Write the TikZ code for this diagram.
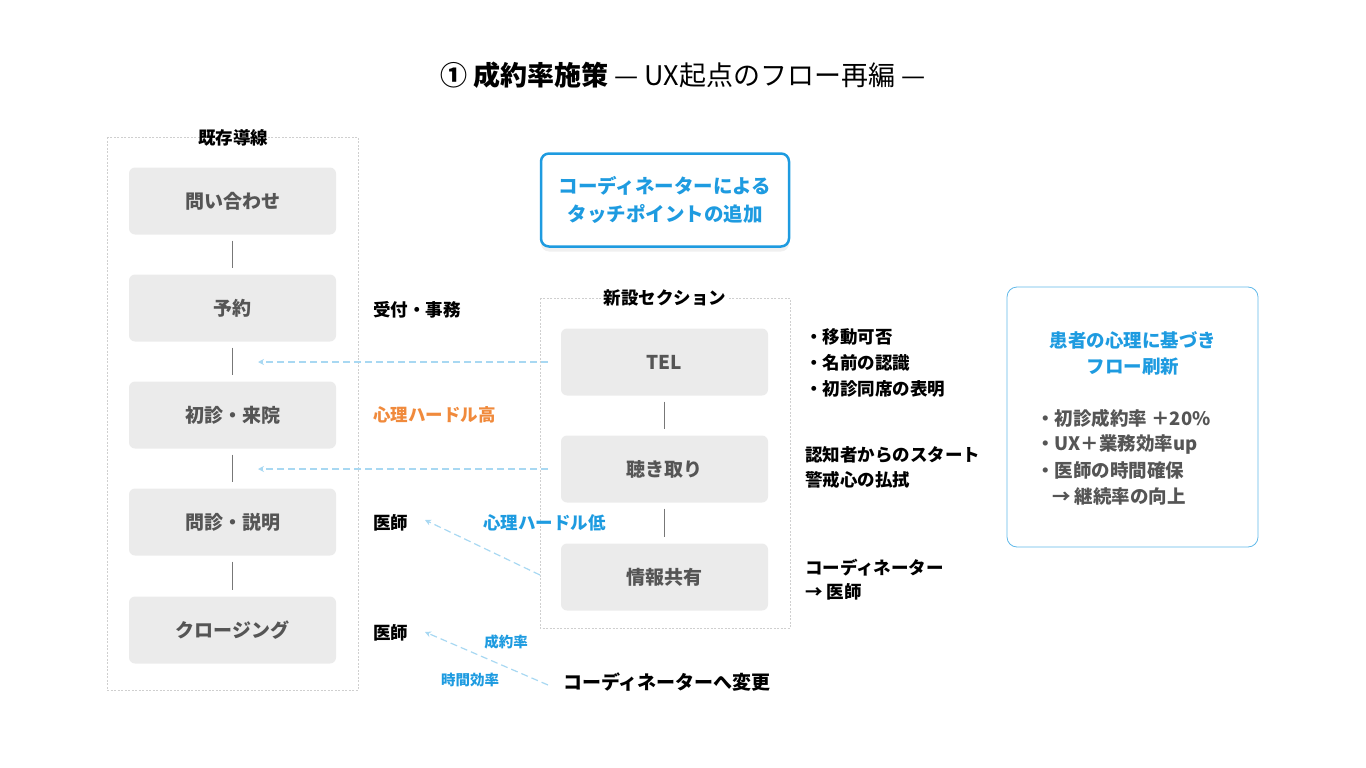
\documentclass[tikz,border=0pt]{standalone}
\usepackage{fontspec}
\setmainfont{Noto Sans CJK JP}
\usetikzlibrary{arrows.meta,shadows}
\definecolor{boxg}{HTML}{EBEBEB}
\definecolor{txg}{HTML}{555555}
\definecolor{bl}{HTML}{1E9BE0}
\definecolor{lbl}{HTML}{A8D8F2}
\definecolor{org}{HTML}{F08A3C}
\definecolor{frm}{HTML}{CFCFCF}
\begin{document}
\begin{tikzpicture}[x=1pt,y=-1pt,
 stepbox/.style={fill=boxg,rounded corners=6pt,minimum width=207pt,minimum height=67pt,text=txg,font=\fontsize{19}{22}\selectfont\bfseries},
 frame/.style={draw=frm,dash pattern=on 2pt off 1.5pt,line width=0.6pt},
 conn/.style={draw=txg!80,line width=0.8pt,shorten >=6pt,shorten <=6pt},
 arr/.style={draw=lbl,line width=1.2pt,dash pattern=on 7pt off 4pt,-{Stealth[length=6pt,width=6pt]}},
 lab/.style={anchor=west,font=\fontsize{17.5}{20}\selectfont\bfseries,text=black,inner sep=0pt},
 small/.style={font=\fontsize{14.5}{17}\selectfont\bfseries,text=bl,inner sep=0pt}]
\useasboundingbox (0,0) rectangle (1366,768);
\node[font=\fontsize{27}{32}\selectfont] (title) at (683,75) {{\bfseries ① 成約率施策} — UX起点のフロー再編 —};
% left
\draw[frame] (107,137) rectangle (358,690);
\node[font=\fontsize{17.5}{20}\selectfont\bfseries] (lt) at (233,138) {既存導線};
\node[stepbox] (l1) at (232.5,201) {問い合わせ};
\node[stepbox] (l2) at (232.5,308) {予約};
\node[stepbox] (l3) at (232.5,415) {初診・来院};
\node[stepbox] (l4) at (232.5,522) {問診・説明};
\node[stepbox] (l5) at (232.5,630) {クロージング};
\draw[conn] (l1) -- (l2); \draw[conn] (l2) -- (l3); \draw[conn] (l3) -- (l4); \draw[conn] (l4) -- (l5);
% blue box
\node[draw=bl,line width=2.5pt,fill=white,rounded corners=8pt,minimum width=248pt,minimum height=93pt,text=bl,align=center,font=\fontsize{19.5}{28}\selectfont\bfseries,drop shadow={opacity=0.12,shadow xshift=0pt,shadow yshift=-5pt}] (cb) at (665,200) {コーディネーターによる\\タッチポイントの追加};
% middle
\draw[frame] (540,298) rectangle (790,628);
\node[fill=white,font=\fontsize{17.5}{20}\selectfont\bfseries,inner sep=1pt] (mt) at (665,298) {新設セクション};
\node[stepbox] (m1) at (664.5,362) {TEL};
\node[stepbox] (m2) at (664.5,469) {聴き取り};
\node[stepbox] (m3) at (664.5,577) {情報共有};
\draw[conn] (m1) -- (m2); \draw[conn] (m2) -- (m3);
\coordinate (a1) at (258,362); \coordinate (a2) at (258,469);
\coordinate (a3) at (425,520); \coordinate (a4) at (425,632);
\coordinate (s1) at (548,362); \coordinate (s2) at (548,469);
\coordinate (s3) at (540,575); \coordinate (s4) at (548,685);
\draw[arr] (s1) -- (a1);
\draw[arr] (s2) -- (a2);
\draw[arr] (s3) -- (a3);
\draw[arr] (s4) -- (a4);
% labels
\node[lab] (t1) at (373,310) {受付・事務};
\node[lab,text=org] (t2) at (373,415) {心理ハードル高};
\node[lab] (t3) at (373,523) {医師};
\node[lab,text=bl] (t4) at (483,523) {心理ハードル低};
\node[lab] (t5) at (373,633) {医師};
\node[small] (t6) at (506,642) {成約率};
\node[small] (t7) at (470,680) {時間効率};
\node[lab,font=\fontsize{19}{22}\selectfont\bfseries] (t8) at (563,682) {コーディネーターへ変更};
\node[lab] (r1) at (805,337) {・移動可否};
\node[lab] (r2) at (805,363) {・名前の認識};
\node[lab] (r3) at (805,389) {・初診同席の表明};
\node[lab] (r4) at (805,455) {認知者からのスタート};
\node[lab] (r5) at (805,480) {警戒心の払拭};
\node[lab] (r6) at (805,568) {コーディネーター};
\node[lab] (r7) at (805,592) {→ 医師};
% right box
\draw[draw=bl!70,line width=0.8pt,rounded corners=10pt] (1007,287) rectangle (1258,547);
\node[font=\fontsize{18.5}{26}\selectfont\bfseries,text=bl,align=center] (rb) at (1133,353) {患者の心理に基づき\\フロー刷新};
\node[lab,text=txg,font=\fontsize{18.5}{22}\selectfont\bfseries] (b1) at (1036,418) {・初診成約率 ＋20\%};
\node[lab,text=txg,font=\fontsize{18.5}{22}\selectfont\bfseries] (b2) at (1036,444) {・UX＋業務効率up};
\node[lab,text=txg,font=\fontsize{18.5}{22}\selectfont\bfseries] (b3) at (1036,470) {・医師の時間確保};
\node[lab,text=txg,font=\fontsize{18.5}{22}\selectfont\bfseries] (b4) at (1052,496) {→ 継続率の向上};
\end{tikzpicture}
\end{document}
